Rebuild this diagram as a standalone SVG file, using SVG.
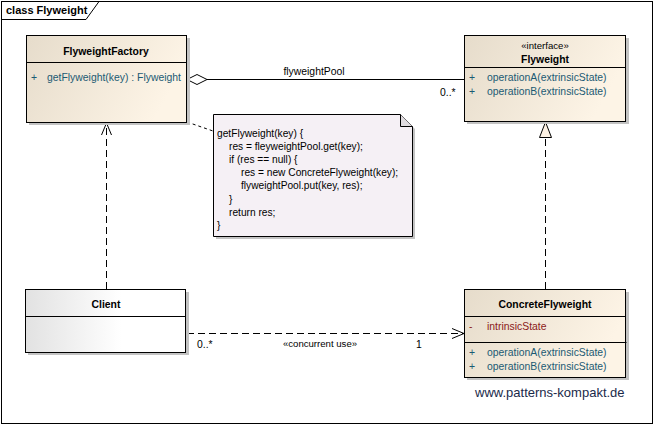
<svg xmlns="http://www.w3.org/2000/svg" width="654" height="426" viewBox="0 0 654 426">
<defs>
<linearGradient id="cls" x1="0" y1="0" x2="1" y2="0.3">
<stop offset="0" stop-color="#e6dccb"/>
<stop offset="1" stop-color="#fdf4e6"/>
</linearGradient>
<linearGradient id="cli" x1="0" y1="0" x2="1" y2="0">
<stop offset="0" stop-color="#e2e2e2"/>
<stop offset="0.6" stop-color="#ffffff"/>
<stop offset="1" stop-color="#ffffff"/>
</linearGradient>
<marker id="open" markerWidth="14" markerHeight="12" refX="13" refY="6" orient="auto" markerUnits="userSpaceOnUse">
<path d="M1,1 L13,6 L1,11" fill="none" stroke="#000" stroke-width="1"/>
</marker>
<marker id="tri" markerWidth="16" markerHeight="16" refX="16" refY="7" orient="auto" markerUnits="userSpaceOnUse">
<path d="M0.5,1 L16,7 L0.5,13 Z" fill="#fdf1e3" stroke="#000" stroke-width="1"/>
</marker>
</defs>
<style>
text{font-family:"Liberation Sans",Arial,sans-serif;font-size:10.4px;fill:#000}
.b{font-weight:bold}
.op{fill:#1b5a73}
.pr{fill:#8b1a1a}
.nt{font-size:10.2px}
.box{fill:url(#cls);stroke:#000;stroke-width:1}
.sh{fill:#c3c3c3}
.ln{stroke:#000;stroke-width:1;fill:none}
.dash{stroke:#000;stroke-width:1;fill:none;stroke-dasharray:7,4}
</style>
<rect x="0" y="0" width="654" height="426" fill="#fff"/>
<g id="frame">
<rect x="1.5" y="1.5" width="651" height="422" fill="none" stroke="#000"/>
<path d="M1.5,19.5 H86 L99,1.5" class="ln"/>
<text x="6" y="14" class="b" style="font-size:11px">class Flyweight</text>
</g>
<g id="connectors">
<line x1="207" y1="79.5" x2="464" y2="79.5" class="ln"/>
<path d="M187,79.5 L197,74.5 L207,79.5 L197,84.5 Z" fill="#fff" stroke="#000"/>
<text x="314" y="75" text-anchor="middle">flyweightPool</text>
<text x="440" y="96">0..*</text>
<line x1="187" y1="122" x2="213" y2="131" class="ln" stroke-dasharray="3,3"/>
<line x1="106.5" y1="289" x2="106.5" y2="123" class="dash" marker-end="url(#open)"/>
<line x1="545.5" y1="289" x2="545.5" y2="122" class="dash" marker-end="url(#tri)"/>
<line x1="187" y1="333.5" x2="464" y2="333.5" class="dash" marker-end="url(#open)"/>
<text x="197" y="348">0..*</text>
<text x="320" y="347" text-anchor="middle" style="font-size:9.6px">«concurrent use»</text>
<text x="416" y="348">1</text>
</g>
<g id="FlyweightFactory">
<rect x="29" y="38" width="161" height="87" class="sh"/>
<rect x="26.5" y="35.5" width="160" height="87" class="box"/>
<line x1="26.5" y1="62.5" x2="186.5" y2="62.5" class="ln"/>
<text x="106" y="55" text-anchor="middle" class="b">FlyweightFactory</text>
<text x="31" y="81" class="op">+</text>
<text x="47" y="81" class="op">getFlyweight(key) : Flyweight</text>
</g>
<g id="Flyweight">
<rect x="467" y="38" width="162" height="86" class="sh"/>
<rect x="464.5" y="35.5" width="161" height="86" class="box"/>
<line x1="464.5" y1="67.5" x2="625.5" y2="67.5" class="ln"/>
<text x="545" y="49" text-anchor="middle" style="font-size:9.6px">«interface»</text>
<text x="545" y="63" text-anchor="middle" class="b">Flyweight</text>
<text x="469" y="81" class="op">+</text>
<text x="487" y="81" class="op">operationA(extrinsicState)</text>
<text x="469" y="95" class="op">+</text>
<text x="487" y="95" class="op">operationB(extrinsicState)</text>
</g>
<g id="note">
<path d="M216,117 H403 L415,129 V239 H216 Z" fill="#c3c3c3"/>
<path d="M213.5,114.5 H400.5 L412.5,126.5 V236.5 H213.5 Z" fill="#f5f0f5" stroke="#000"/>
<path d="M400.5,114.5 V126.5 H412.5" fill="#e0dce0" stroke="#000"/>
<text x="217" y="137" class="nt">getFlyweight(key) {</text>
<text x="229" y="150" class="nt">res = fleyweightPool.get(key);</text>
<text x="229" y="163" class="nt">if (res == null) {</text>
<text x="241" y="176" class="nt">res = new ConcreteFlyweight(key);</text>
<text x="241" y="189" class="nt">flyweightPool.put(key, res);</text>
<text x="229" y="203" class="nt">}</text>
<text x="229" y="216" class="nt">return res;</text>
<text x="217" y="229" class="nt">}</text>
</g>
<g id="Client">
<rect x="28" y="292" width="161" height="63" class="sh"/>
<rect x="25.5" y="289.5" width="160" height="63" fill="url(#cli)" stroke="#000"/>
<line x1="25.5" y1="316.5" x2="185.5" y2="316.5" class="ln"/>
<text x="106" y="308" text-anchor="middle" class="b">Client</text>
</g>
<g id="ConcreteFlyweight">
<rect x="467" y="292" width="162" height="88" class="sh"/>
<rect x="464.5" y="289.5" width="161" height="88" class="box"/>
<line x1="464.5" y1="316.5" x2="625.5" y2="316.5" class="ln"/>
<line x1="464.5" y1="342.5" x2="626.5" y2="342.5" class="ln"/>
<text x="545" y="308" text-anchor="middle" class="b">ConcreteFlyweight</text>
<text x="469" y="330" class="pr">-</text>
<text x="487" y="330" class="pr">intrinsicState</text>
<text x="469" y="356" class="op">+</text>
<text x="487" y="356" class="op">operationA(extrinsicState)</text>
<text x="469" y="370" class="op">+</text>
<text x="487" y="370" class="op">operationB(extrinsicState)</text>
</g>
<text x="475" y="397" style="font-size:13px;fill:#1a2a4a">www.patterns-kompakt.de</text>
</svg>
